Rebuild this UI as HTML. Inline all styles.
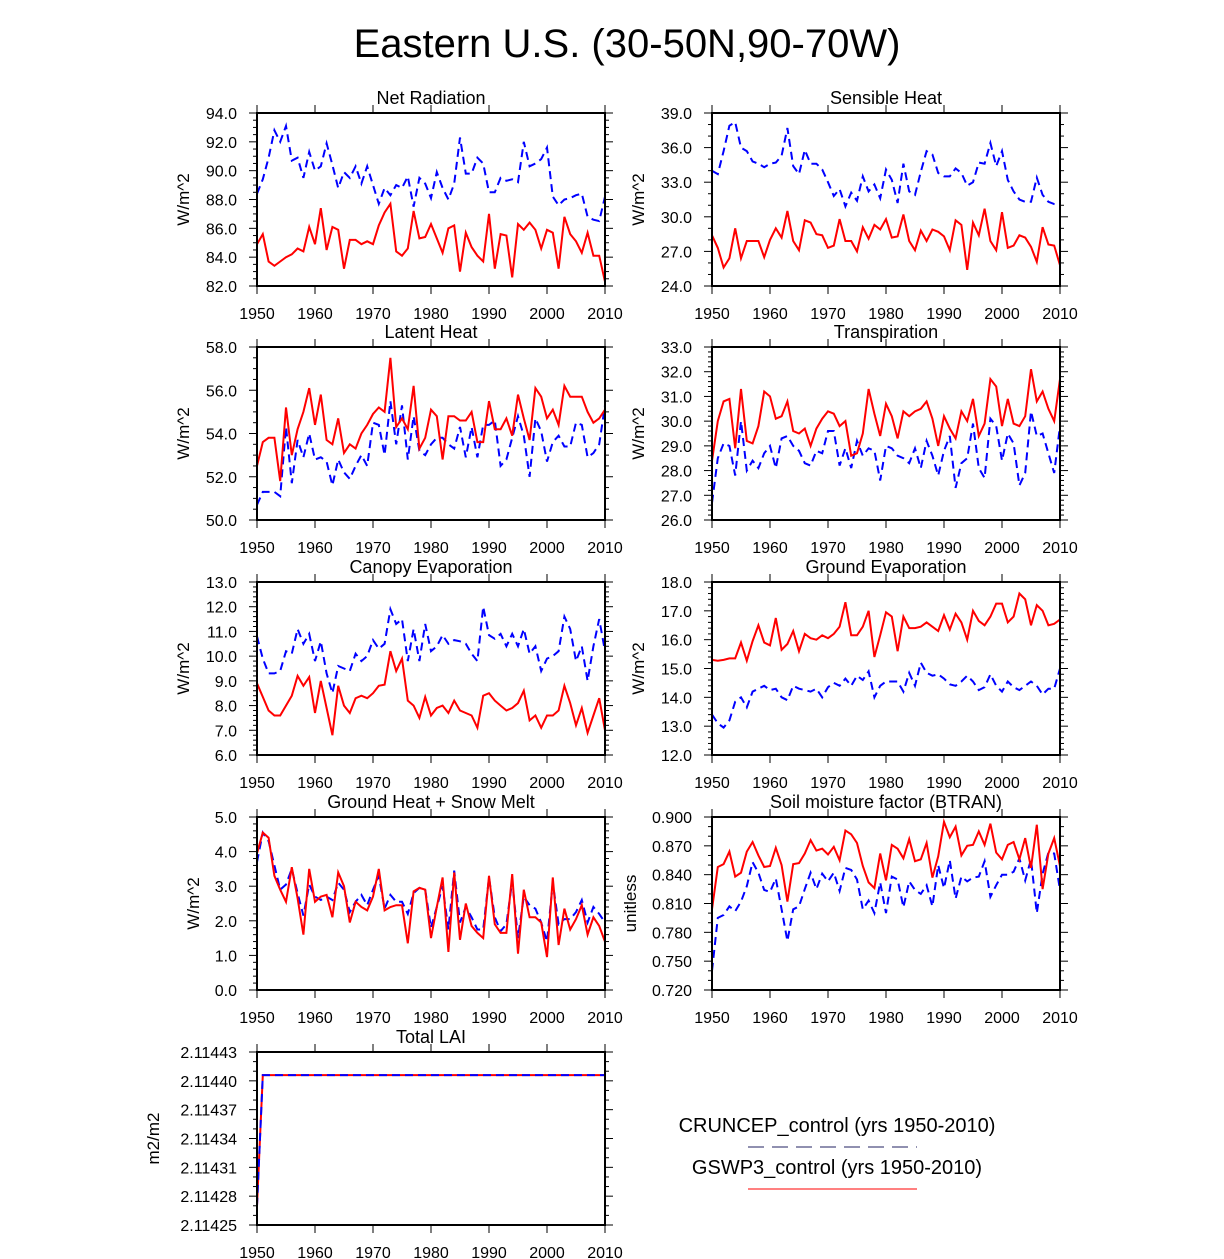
<!DOCTYPE html>
<html><head><meta charset="utf-8">
<style>
html,body{margin:0;padding:0;background:#fff;}
svg{display:block;font-family:"Liberation Sans",sans-serif;}
</style></head>
<body>
<svg id="fig" width="1224" height="1259" viewBox="0 0 1224 1259">
<text x="627" y="57" font-size="40" text-anchor="middle">Eastern U.S. (30-50N,90-70W)</text>
<g>
<text x="837" y="1132" font-size="20" text-anchor="middle">CRUNCEP_control (yrs 1950-2010)</text>
<line x1="748" y1="1147" x2="917" y2="1147" stroke="#202060" stroke-width="1" stroke-dasharray="16,8"/>
<text x="837" y="1174" font-size="20" text-anchor="middle">GSWP3_control (yrs 1950-2010)</text>
<line x1="748" y1="1189" x2="917" y2="1189" stroke="#ff0000" stroke-width="1"/>
</g>
</svg>
<script>
const years = Array.from({length:61},(_,i)=>1950+i);
const xTicks = [1950,1960,1970,1980,1990,2000,2010];

const netRadRed=[84.9,85.6,83.7,83.4,83.7,84.0,84.2,84.6,84.4,86.1,84.9,87.4,84.5,86.1,85.9,83.2,85.2,85.2,84.9,85.1,84.9,86.2,87.1,87.7,84.4,84.1,84.6,87.2,85.3,85.4,86.3,85.3,84.3,86.0,86.2,83.0,85.7,84.7,84.1,83.7,87.0,83.2,85.6,85.5,82.6,86.3,85.9,86.4,85.9,84.6,85.9,85.7,83.2,86.8,85.6,85.1,84.3,85.7,84.1,84.1,82.3];
const netRadBlue=[88.4,89.4,90.9,92.8,92.0,93.1,90.7,90.9,89.5,91.3,90.0,90.3,91.9,90.4,88.8,89.9,89.5,90.3,89.1,90.3,89.0,87.7,88.8,88.3,89.0,88.8,89.6,87.5,89.5,89.1,88.1,89.9,88.8,88.0,89.1,92.3,89.8,89.8,90.9,90.5,88.5,88.5,89.5,89.3,89.4,89.2,92.0,90.3,90.5,90.8,91.6,88.2,87.6,88.0,88.1,88.3,88.4,86.8,86.6,86.5,88.2];
const sensRed=[28.4,27.3,25.6,26.4,29.0,26.4,27.9,27.9,27.9,26.5,28.0,29.0,28.2,30.5,27.9,27.1,29.7,29.5,28.5,28.4,27.3,27.5,29.8,27.9,27.9,27.0,29.1,28.1,29.3,28.9,29.8,28.2,28.3,30.2,27.9,27.1,28.8,27.9,28.9,28.7,28.3,27.1,29.7,29.3,25.4,29.5,28.4,30.7,27.9,27.1,30.4,27.3,27.5,28.4,28.2,27.4,26.1,29.1,27.6,27.5,25.8];
const sensBlue=[34.0,33.7,35.7,37.9,38.2,36.0,35.7,34.8,34.6,34.3,34.6,34.7,35.3,37.7,34.4,33.7,35.8,34.6,34.6,34.1,33.0,31.8,32.4,30.9,32.1,31.4,33.5,32.2,32.8,31.6,34.1,33.2,31.2,34.6,32.2,31.9,33.9,35.7,35.4,33.8,33.5,33.5,34.2,33.8,32.7,33.0,34.7,34.6,36.4,34.4,35.7,33.2,32.2,31.5,31.3,31.3,33.4,31.9,31.3,31.1,31.0];
const latRed=[52.5,53.6,53.8,53.8,51.8,55.2,53.0,54.2,55.0,56.1,54.4,55.8,53.7,53.5,54.7,53.1,53.5,53.3,54.0,54.4,54.9,55.2,55.0,57.5,54.3,54.7,54.2,56.2,53.3,53.8,55.1,54.8,52.8,54.8,54.8,54.6,54.6,55.0,53.6,53.6,55.5,54.2,54.2,54.7,53.9,55.8,54.7,53.7,56.1,55.7,54.7,55.1,54.4,56.2,55.7,55.7,55.7,55.0,54.5,54.7,55.1];
const latBlue=[50.7,51.3,51.3,51.3,51.1,54.3,51.7,53.7,52.9,54.0,52.8,52.9,52.7,51.6,52.8,52.2,51.9,52.5,53.0,52.5,54.5,54.4,53.0,55.5,53.5,55.3,52.8,54.8,53.2,53.0,53.5,53.8,53.8,53.5,53.3,54.3,52.9,54.3,52.9,54.4,54.4,54.6,52.5,52.8,53.8,54.8,53.9,52.0,54.7,54.1,52.7,53.6,53.9,53.4,53.4,54.5,54.4,52.9,53.1,53.5,55.3];
const trRed=[28.4,30.0,30.8,30.9,28.9,31.3,29.2,29.1,29.8,31.2,31.0,30.1,30.2,30.8,29.6,29.5,29.7,29.0,29.7,30.1,30.4,30.3,29.8,30.0,28.6,28.7,29.5,31.3,30.3,29.4,30.7,30.2,29.3,30.4,30.2,30.4,30.5,30.8,30.1,29.0,30.2,29.7,29.3,30.4,30.0,30.9,29.4,29.9,31.7,31.4,29.8,30.9,29.9,29.8,30.2,32.1,30.8,31.2,30.5,30.0,31.7];
const trBlue=[26.7,28.5,29.1,29.0,27.8,30.0,28.0,28.4,28.1,28.7,29.0,28.1,29.3,29.4,29.0,28.8,28.3,28.2,28.8,28.7,29.6,29.6,28.2,28.9,28.1,29.2,28.6,28.9,28.8,27.6,29.0,28.9,28.6,28.5,28.3,28.9,28.1,29.2,28.6,27.8,28.8,29.4,27.3,28.3,28.5,29.9,28.1,27.7,30.1,29.8,28.4,29.5,29.1,27.4,27.9,30.4,29.4,29.5,28.7,27.9,29.8];
const canRed=[8.9,8.35,7.8,7.6,7.6,8.0,8.4,9.2,8.8,9.15,7.7,9.0,7.9,6.8,8.8,8.0,7.7,8.3,8.4,8.3,8.5,8.8,8.85,10.2,9.4,9.9,8.2,8.0,7.5,8.35,7.6,7.9,8.0,7.7,8.2,7.8,7.7,7.6,7.1,8.4,8.5,8.2,8.0,7.8,7.9,8.1,8.6,7.4,7.6,7.1,7.6,7.6,7.8,8.8,8.1,7.2,7.9,6.9,7.6,8.3,7.0];
const canBlue=[10.8,9.9,9.3,9.3,9.4,10.2,10.1,11.1,10.5,10.9,9.8,10.6,9.3,8.5,9.6,9.5,9.4,10.1,9.8,10.0,10.65,10.3,10.5,11.9,11.3,11.5,9.8,11.1,9.8,11.3,10.2,10.4,10.85,10.5,10.65,10.6,10.5,10.1,9.8,12.0,10.85,10.7,10.9,10.4,10.9,10.4,11.1,10.1,10.4,9.4,9.9,10.0,10.2,11.6,11.1,9.8,10.4,9.0,10.4,11.5,10.2];
const gevRed=[15.3,15.27,15.3,15.35,15.35,15.9,15.27,15.95,16.5,15.9,15.8,16.75,15.65,15.85,16.3,15.6,16.2,16.05,16.0,16.15,16.05,16.2,16.45,17.3,16.15,16.15,16.45,17.0,15.4,16.15,16.95,16.8,15.6,16.8,16.4,16.4,16.45,16.6,16.45,16.3,16.85,16.35,16.9,16.6,16.0,17.0,16.65,16.5,16.8,17.25,17.25,16.6,16.8,17.6,17.4,16.5,17.2,17.0,16.5,16.55,16.7];
const gevBlue=[13.4,13.1,12.95,13.2,13.85,14.0,13.65,14.2,14.3,14.4,14.25,14.3,14.0,13.9,14.4,14.3,14.25,14.2,14.3,14.0,14.35,14.5,14.4,14.65,14.4,14.75,14.6,14.9,14.0,14.4,14.55,14.55,14.55,14.2,14.85,14.4,15.2,14.85,14.75,14.8,14.65,14.45,14.4,14.55,14.75,14.55,14.25,14.35,14.8,14.4,14.2,14.55,14.35,14.25,14.4,14.55,14.4,14.1,14.3,14.3,15.0];
const ghRed=[3.95,4.55,4.4,3.3,2.9,2.55,3.55,2.65,1.6,3.5,2.55,2.7,2.75,2.1,3.4,3.0,1.95,2.55,2.4,2.3,2.7,3.5,2.3,2.4,2.45,2.45,1.35,2.85,2.95,2.9,1.5,2.4,3.25,1.1,3.4,1.45,2.5,1.85,1.65,1.5,3.3,1.9,1.65,1.65,3.35,1.05,2.9,2.1,2.1,1.95,0.95,3.25,1.3,2.35,1.75,2.05,2.45,1.6,2.1,1.85,1.4];
const ghBlue=[3.7,4.55,4.3,3.6,2.9,3.05,3.5,2.8,2.15,3.05,2.7,2.6,2.7,2.6,3.1,2.9,2.25,2.55,2.75,2.45,2.9,3.3,2.35,2.75,2.55,2.55,2.2,2.8,2.95,2.9,1.8,2.4,3.0,1.75,3.45,1.95,2.4,2.1,1.75,1.75,3.25,2.1,1.7,1.9,3.15,1.5,2.7,2.45,2.35,1.95,1.4,3.1,1.9,2.05,2.05,2.25,2.6,1.95,2.4,2.2,1.95];
const btRed=[0.804,0.848,0.851,0.864,0.838,0.842,0.864,0.874,0.860,0.848,0.849,0.868,0.850,0.812,0.851,0.852,0.862,0.876,0.865,0.867,0.861,0.869,0.855,0.886,0.882,0.873,0.849,0.832,0.826,0.862,0.834,0.871,0.867,0.857,0.877,0.854,0.856,0.873,0.837,0.859,0.895,0.879,0.890,0.860,0.870,0.871,0.885,0.871,0.893,0.863,0.856,0.871,0.874,0.856,0.878,0.847,0.892,0.825,0.862,0.878,0.849];
const btBlue=[0.740,0.795,0.798,0.807,0.802,0.812,0.828,0.853,0.842,0.824,0.822,0.836,0.804,0.771,0.804,0.807,0.825,0.842,0.825,0.841,0.833,0.842,0.823,0.847,0.845,0.835,0.804,0.813,0.800,0.832,0.800,0.838,0.835,0.806,0.833,0.824,0.820,0.829,0.807,0.850,0.826,0.855,0.815,0.838,0.833,0.837,0.838,0.854,0.817,0.829,0.840,0.840,0.843,0.857,0.834,0.856,0.800,0.841,0.863,0.862,0.824];
const laiRed=[2.114270].concat(Array(60).fill(2.114406));
const laiBlue=[2.114270].concat(Array(60).fill(2.114406));

const ticksNet=[82,84,86,88,90,92,94];
const ticksSens=[24,27,30,33,36,39];
const ticksLat=[50,52,54,56,58];
const ticksTr=[26,27,28,29,30,31,32,33];
const ticksCan=[6,7,8,9,10,11,12,13];
const ticksGev=[12,13,14,15,16,17,18];
const ticksGh=[0,1,2,3,4,5];
const ticksBt=[0.72,0.75,0.78,0.81,0.84,0.87,0.90];
const ticksLai=[2.11425,2.11428,2.11431,2.11434,2.11437,2.11440,2.11443];

const NS='http://www.w3.org/2000/svg';
const svg=document.getElementById('fig');
function mk(tag,attrs,parent){const e=document.createElementNS(NS,tag);for(const k in attrs)e.setAttribute(k,attrs[k]);parent.appendChild(e);return e;}

const panels=[
 {key:'net-radiation',title:'Net Radiation',ylab:'W/m^2',x0:257,y0:113,red:netRadRed,blue:netRadBlue,ticks:ticksNet,minor:4,dec:1,labx:183},
 {key:'sensible-heat',title:'Sensible Heat',ylab:'W/m^2',x0:712,y0:113,red:sensRed,blue:sensBlue,ticks:ticksSens,minor:3,dec:1,labx:638},
 {key:'latent-heat',title:'Latent Heat',ylab:'W/m^2',x0:257,y0:347,red:latRed,blue:latBlue,ticks:ticksLat,minor:4,dec:1,labx:183},
 {key:'transpiration',title:'Transpiration',ylab:'W/m^2',x0:712,y0:347,red:trRed,blue:trBlue,ticks:ticksTr,minor:5,dec:1,labx:638},
 {key:'canopy-evaporation',title:'Canopy Evaporation',ylab:'W/m^2',x0:257,y0:582,red:canRed,blue:canBlue,ticks:ticksCan,minor:5,dec:1,labx:183},
 {key:'ground-evaporation',title:'Ground Evaporation',ylab:'W/m^2',x0:712,y0:582,red:gevRed,blue:gevBlue,ticks:ticksGev,minor:5,dec:1,labx:638},
 {key:'ground-heat',title:'Ground Heat + Snow Melt',ylab:'W/m^2',x0:257,y0:817,red:ghRed,blue:ghBlue,ticks:ticksGh,minor:5,dec:1,labx:193},
 {key:'btran',title:'Soil moisture factor (BTRAN)',ylab:'unitless',x0:712,y0:817,red:btRed,blue:btBlue,ticks:ticksBt,minor:3,dec:3,labx:630},
 {key:'total-lai',title:'Total LAI',ylab:'m2/m2',x0:257,y0:1052,red:laiRed,blue:laiBlue,ticks:ticksLai,minor:3,dec:5,labx:153}
];
const W=348,H=173;

panels.forEach(p=>{
 const g=mk('g',{},svg);
 
 
 const lo=p.ticks[0],hi=p.ticks[p.ticks.length-1];
 const xs=v=>p.x0+(v-1950)/60*W;
 const ys=v=>p.y0+H-(v-lo)/(hi-lo)*H;
 const tg=mk('g',{stroke:'#000','stroke-width':1},g);
 
 
 xTicks.forEach(t=>{const x=xs(t);
  mk('line',{x1:x,y1:p.y0+H,x2:x,y2:p.y0+H+8},tg);
  mk('line',{x1:x,y1:p.y0,x2:x,y2:p.y0-8},tg);
  const tx=mk('text',{x:x,y:p.y0+H+33,'font-size':16,'text-anchor':'middle',stroke:'none'},g);
  tx.textContent=t;
  
  
 });
 const step=p.ticks[1]-p.ticks[0];
 p.ticks.forEach((t,i)=>{const y=ys(t);
  mk('line',{x1:p.x0,y1:y,x2:p.x0-8,y2:y},tg);
  mk('line',{x1:p.x0+W,y1:y,x2:p.x0+W+8,y2:y},tg);
  if(i<p.ticks.length-1){for(let m=1;m<p.minor;m++){const ym=ys(t+step*m/p.minor);
   mk('line',{x1:p.x0,y1:ym,x2:p.x0-4,y2:ym},tg);
   mk('line',{x1:p.x0+W,y1:ym,x2:p.x0+W+4,y2:ym},tg);}}
  const tx=mk('text',{x:p.x0-20,y:y+6,'font-size':16,'text-anchor':'end'},g);
  tx.textContent=t.toFixed(p.dec);
  
  
 });
 const ptsB=years.map((yr,i)=>xs(yr).toFixed(1)+','+ys(p.blue[i]).toFixed(1)).join(' ');
 const ptsR=years.map((yr,i)=>xs(yr).toFixed(1)+','+ys(p.red[i]).toFixed(1)).join(' ');
 const lb=mk('polyline',{points:ptsB,fill:'none',stroke:'#0000ff','stroke-width':2,'stroke-dasharray':'8,5'},g);
 
 
 const lr=mk('polyline',{points:ptsR,fill:'none',stroke:'#ff0000','stroke-width':2},g);
 
 
 if(p.key==='total-lai'){g.appendChild(lb);}
 const fr=mk('rect',{x:p.x0,y:p.y0,width:W,height:H,fill:'none',stroke:'#000','stroke-width':2},g);
 
 
 const ti=mk('text',{x:p.x0+W/2,y:p.y0-9,'font-size':18,'text-anchor':'middle'},g);
 ti.textContent=p.title;
 
 
 const yl=mk('text',{x:0,y:0,'font-size':17,'text-anchor':'middle',transform:'translate('+(p.labx+6)+','+(p.y0+H/2)+') rotate(-90)'},g);
 yl.textContent=p.ylab;
 
 
});
</script>
</body></html>
